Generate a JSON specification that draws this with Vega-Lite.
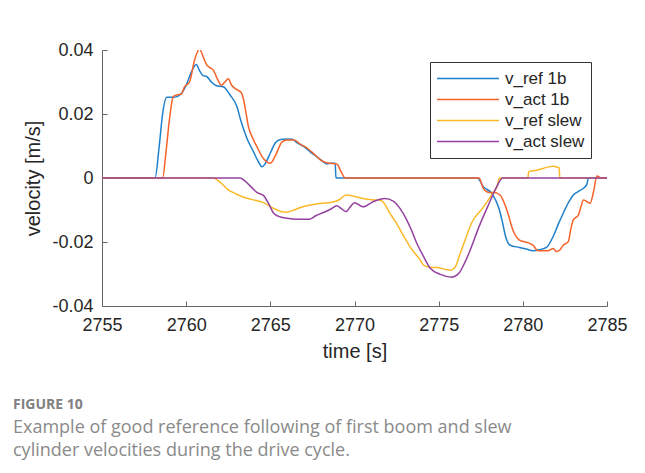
{
  "$schema": "https://vega.github.io/schema/vega-lite/v6.json",
  "width": 505,
  "height": 256,
  "autosize": {"type": "none"},
  "padding": {"left": 102, "top": 50, "right": 38, "bottom": 167},
  "background": "white",
  "config": {
    "view": {"stroke": null},
    "font": "Liberation Sans",
    "axis": {
      "domainColor": "#666",
      "tickColor": "#666",
      "tickSize": -5,
      "grid": false,
      "labelFont": "Liberation Sans",
      "labelFontSize": 18,
      "labelColor": "#262626",
      "titleFont": "Liberation Sans",
      "titleFontSize": 20,
      "titleFontWeight": "normal",
      "titleColor": "#262626"
    }
  },
  "title": {
    "text": "FIGURE 10",
    "subtitle": ["Example of good reference following of first boom and slew", "cylinder velocities during the drive cycle."],
    "orient": "bottom",
    "anchor": "start",
    "frame": "group",
    "dx": -89,
    "offset": 37,
    "font": "Open Sans",
    "fontSize": 14,
    "fontWeight": "bold",
    "color": "#808080",
    "subtitleFont": "Open Sans",
    "subtitleFontSize": 18,
    "subtitleColor": "#8a8a8a",
    "subtitleLineHeight": 22.5,
    "subtitlePadding": 7
  },
  "data": {"values": [
    {"t":2755,"v":0,"s":"v_ref 1b"},{"t":2758.15,"v":0,"s":"v_ref 1b"},{"t":2758.4,"v":0.010,"s":"v_ref 1b"},{"t":2758.6,"v":0.020,"s":"v_ref 1b"},{"t":2758.85,"v":0.0252,"s":"v_ref 1b"},{"t":2759.2,"v":0.0252,"s":"v_ref 1b"},{"t":2759.5,"v":0.0255,"s":"v_ref 1b"},{"t":2759.8,"v":0.027,"s":"v_ref 1b"},{"t":2760.0,"v":0.029,"s":"v_ref 1b"},{"t":2760.3,"v":0.033,"s":"v_ref 1b"},{"t":2760.6,"v":0.0355,"s":"v_ref 1b"},{"t":2760.8,"v":0.0335,"s":"v_ref 1b"},{"t":2761.0,"v":0.032,"s":"v_ref 1b"},{"t":2761.2,"v":0.0318,"s":"v_ref 1b"},{"t":2761.5,"v":0.030,"s":"v_ref 1b"},{"t":2761.8,"v":0.0288,"s":"v_ref 1b"},{"t":2762.2,"v":0.0285,"s":"v_ref 1b"},{"t":2762.6,"v":0.026,"s":"v_ref 1b"},{"t":2763.0,"v":0.0225,"s":"v_ref 1b"},{"t":2763.3,"v":0.017,"s":"v_ref 1b"},{"t":2763.6,"v":0.0125,"s":"v_ref 1b"},{"t":2764.0,"v":0.0082,"s":"v_ref 1b"},{"t":2764.3,"v":0.0050,"s":"v_ref 1b"},{"t":2764.5,"v":0.0035,"s":"v_ref 1b"},{"t":2764.75,"v":0.005,"s":"v_ref 1b"},{"t":2765.0,"v":0.0078,"s":"v_ref 1b"},{"t":2765.3,"v":0.011,"s":"v_ref 1b"},{"t":2765.6,"v":0.012,"s":"v_ref 1b"},{"t":2766.0,"v":0.0122,"s":"v_ref 1b"},{"t":2766.3,"v":0.0121,"s":"v_ref 1b"},{"t":2766.6,"v":0.011,"s":"v_ref 1b"},{"t":2767.0,"v":0.0098,"s":"v_ref 1b"},{"t":2767.4,"v":0.008,"s":"v_ref 1b"},{"t":2767.75,"v":0.0067,"s":"v_ref 1b"},{"t":2768.1,"v":0.0052,"s":"v_ref 1b"},{"t":2768.35,"v":0.0044,"s":"v_ref 1b"},{"t":2768.6,"v":0.0046,"s":"v_ref 1b"},{"t":2768.85,"v":0.0046,"s":"v_ref 1b"},{"t":2768.9,"v":0,"s":"v_ref 1b"},{"t":2777.3,"v":0,"s":"v_ref 1b"},{"t":2777.65,"v":-0.0027,"s":"v_ref 1b"},{"t":2778.15,"v":-0.0048,"s":"v_ref 1b"},{"t":2778.55,"v":-0.009,"s":"v_ref 1b"},{"t":2778.8,"v":-0.014,"s":"v_ref 1b"},{"t":2778.95,"v":-0.0178,"s":"v_ref 1b"},{"t":2779.25,"v":-0.021,"s":"v_ref 1b"},{"t":2779.8,"v":-0.0217,"s":"v_ref 1b"},{"t":2780.2,"v":-0.0222,"s":"v_ref 1b"},{"t":2780.6,"v":-0.0227,"s":"v_ref 1b"},{"t":2781.0,"v":-0.0224,"s":"v_ref 1b"},{"t":2781.4,"v":-0.0217,"s":"v_ref 1b"},{"t":2781.8,"v":-0.0183,"s":"v_ref 1b"},{"t":2782.1,"v":-0.0145,"s":"v_ref 1b"},{"t":2782.4,"v":-0.011,"s":"v_ref 1b"},{"t":2782.7,"v":-0.0078,"s":"v_ref 1b"},{"t":2783.0,"v":-0.0053,"s":"v_ref 1b"},{"t":2783.3,"v":-0.0042,"s":"v_ref 1b"},{"t":2783.6,"v":-0.0032,"s":"v_ref 1b"},{"t":2783.8,"v":-0.002,"s":"v_ref 1b"},{"t":2783.9,"v":0,"s":"v_ref 1b"},{"t":2785,"v":0,"s":"v_ref 1b"},

    {"t":2755,"v":0,"s":"v_act 1b"},{"t":2758.6,"v":0,"s":"v_act 1b"},{"t":2758.8,"v":0.008,"s":"v_act 1b"},{"t":2759.0,"v":0.018,"s":"v_act 1b"},{"t":2759.24,"v":0.0255,"s":"v_act 1b"},{"t":2759.5,"v":0.026,"s":"v_act 1b"},{"t":2759.7,"v":0.0262,"s":"v_act 1b"},{"t":2759.9,"v":0.0285,"s":"v_act 1b"},{"t":2760.2,"v":0.030,"s":"v_act 1b"},{"t":2760.5,"v":0.0369,"s":"v_act 1b"},{"t":2760.8,"v":0.0403,"s":"v_act 1b"},{"t":2761.0,"v":0.038,"s":"v_act 1b"},{"t":2761.2,"v":0.0355,"s":"v_act 1b"},{"t":2761.4,"v":0.0345,"s":"v_act 1b"},{"t":2761.6,"v":0.0338,"s":"v_act 1b"},{"t":2761.85,"v":0.031,"s":"v_act 1b"},{"t":2762.1,"v":0.029,"s":"v_act 1b"},{"t":2762.3,"v":0.030,"s":"v_act 1b"},{"t":2762.5,"v":0.031,"s":"v_act 1b"},{"t":2762.7,"v":0.029,"s":"v_act 1b"},{"t":2762.9,"v":0.028,"s":"v_act 1b"},{"t":2763.3,"v":0.0265,"s":"v_act 1b"},{"t":2763.5,"v":0.022,"s":"v_act 1b"},{"t":2763.7,"v":0.016,"s":"v_act 1b"},{"t":2763.95,"v":0.0125,"s":"v_act 1b"},{"t":2764.2,"v":0.0098,"s":"v_act 1b"},{"t":2764.6,"v":0.006,"s":"v_act 1b"},{"t":2765.0,"v":0.0046,"s":"v_act 1b"},{"t":2765.3,"v":0.007,"s":"v_act 1b"},{"t":2765.7,"v":0.0113,"s":"v_act 1b"},{"t":2766.0,"v":0.0119,"s":"v_act 1b"},{"t":2766.4,"v":0.0119,"s":"v_act 1b"},{"t":2766.8,"v":0.0105,"s":"v_act 1b"},{"t":2767.2,"v":0.0093,"s":"v_act 1b"},{"t":2767.6,"v":0.0075,"s":"v_act 1b"},{"t":2768.0,"v":0.0056,"s":"v_act 1b"},{"t":2768.4,"v":0.0047,"s":"v_act 1b"},{"t":2768.95,"v":0.0044,"s":"v_act 1b"},{"t":2769.2,"v":0.002,"s":"v_act 1b"},{"t":2769.45,"v":0,"s":"v_act 1b"},{"t":2777.4,"v":0,"s":"v_act 1b"},{"t":2777.65,"v":-0.0032,"s":"v_act 1b"},{"t":2778.0,"v":-0.0045,"s":"v_act 1b"},{"t":2778.3,"v":-0.0045,"s":"v_act 1b"},{"t":2778.65,"v":-0.0053,"s":"v_act 1b"},{"t":2779.05,"v":-0.010,"s":"v_act 1b"},{"t":2779.45,"v":-0.0168,"s":"v_act 1b"},{"t":2779.8,"v":-0.0194,"s":"v_act 1b"},{"t":2780.3,"v":-0.0202,"s":"v_act 1b"},{"t":2780.6,"v":-0.021,"s":"v_act 1b"},{"t":2780.9,"v":-0.0227,"s":"v_act 1b"},{"t":2781.5,"v":-0.0227,"s":"v_act 1b"},{"t":2781.8,"v":-0.022,"s":"v_act 1b"},{"t":2782.0,"v":-0.023,"s":"v_act 1b"},{"t":2782.2,"v":-0.0225,"s":"v_act 1b"},{"t":2782.4,"v":-0.021,"s":"v_act 1b"},{"t":2782.7,"v":-0.0199,"s":"v_act 1b"},{"t":2782.85,"v":-0.016,"s":"v_act 1b"},{"t":2783.0,"v":-0.0131,"s":"v_act 1b"},{"t":2783.3,"v":-0.0116,"s":"v_act 1b"},{"t":2783.45,"v":-0.009,"s":"v_act 1b"},{"t":2783.6,"v":-0.0069,"s":"v_act 1b"},{"t":2784.0,"v":-0.0079,"s":"v_act 1b"},{"t":2784.2,"v":-0.0043,"s":"v_act 1b"},{"t":2784.4,"v":0.0006,"s":"v_act 1b"},{"t":2784.7,"v":0,"s":"v_act 1b"},{"t":2785,"v":0,"s":"v_act 1b"},

    {"t":2755,"v":0,"s":"v_ref slew"},{"t":2761.6,"v":0,"s":"v_ref slew"},{"t":2761.9,"v":-0.0008,"s":"v_ref slew"},{"t":2762.2,"v":-0.0022,"s":"v_ref slew"},{"t":2762.5,"v":-0.0037,"s":"v_ref slew"},{"t":2762.9,"v":-0.0048,"s":"v_ref slew"},{"t":2763.3,"v":-0.0058,"s":"v_ref slew"},{"t":2763.8,"v":-0.0066,"s":"v_ref slew"},{"t":2764.6,"v":-0.0077,"s":"v_ref slew"},{"t":2765.2,"v":-0.0095,"s":"v_ref slew"},{"t":2765.9,"v":-0.0107,"s":"v_ref slew"},{"t":2766.3,"v":-0.0102,"s":"v_ref slew"},{"t":2766.8,"v":-0.0092,"s":"v_ref slew"},{"t":2767.3,"v":-0.0085,"s":"v_ref slew"},{"t":2767.75,"v":-0.0081,"s":"v_ref slew"},{"t":2768.65,"v":-0.0076,"s":"v_ref slew"},{"t":2769.1,"v":-0.0068,"s":"v_ref slew"},{"t":2769.5,"v":-0.0053,"s":"v_ref slew"},{"t":2769.9,"v":-0.0056,"s":"v_ref slew"},{"t":2770.5,"v":-0.0064,"s":"v_ref slew"},{"t":2771.0,"v":-0.0068,"s":"v_ref slew"},{"t":2771.5,"v":-0.0069,"s":"v_ref slew"},{"t":2771.7,"v":-0.0075,"s":"v_ref slew"},{"t":2772.1,"v":-0.011,"s":"v_ref slew"},{"t":2772.5,"v":-0.0142,"s":"v_ref slew"},{"t":2772.9,"v":-0.018,"s":"v_ref slew"},{"t":2773.3,"v":-0.0215,"s":"v_ref slew"},{"t":2773.9,"v":-0.0256,"s":"v_ref slew"},{"t":2774.1,"v":-0.0272,"s":"v_ref slew"},{"t":2774.5,"v":-0.0279,"s":"v_ref slew"},{"t":2774.9,"v":-0.028,"s":"v_ref slew"},{"t":2775.3,"v":-0.0284,"s":"v_ref slew"},{"t":2775.7,"v":-0.0288,"s":"v_ref slew"},{"t":2776.0,"v":-0.0277,"s":"v_ref slew"},{"t":2776.25,"v":-0.024,"s":"v_ref slew"},{"t":2776.5,"v":-0.0204,"s":"v_ref slew"},{"t":2777.0,"v":-0.0136,"s":"v_ref slew"},{"t":2777.6,"v":-0.0095,"s":"v_ref slew"},{"t":2778.15,"v":-0.0053,"s":"v_ref slew"},{"t":2778.5,"v":-0.0022,"s":"v_ref slew"},{"t":2778.6,"v":0,"s":"v_ref slew"},{"t":2780.3,"v":0,"s":"v_ref slew"},{"t":2780.35,"v":0.002,"s":"v_ref slew"},{"t":2780.8,"v":0.0024,"s":"v_ref slew"},{"t":2781.2,"v":0.003,"s":"v_ref slew"},{"t":2781.8,"v":0.0037,"s":"v_ref slew"},{"t":2782.15,"v":0.0032,"s":"v_ref slew"},{"t":2782.2,"v":0,"s":"v_ref slew"},{"t":2785,"v":0,"s":"v_ref slew"},

    {"t":2755,"v":0,"s":"v_act slew"},{"t":2763.2,"v":0,"s":"v_act slew"},{"t":2763.5,"v":-0.001,"s":"v_act slew"},{"t":2763.9,"v":-0.003,"s":"v_act slew"},{"t":2764.2,"v":-0.0045,"s":"v_act slew"},{"t":2764.6,"v":-0.0055,"s":"v_act slew"},{"t":2764.9,"v":-0.008,"s":"v_act slew"},{"t":2765.2,"v":-0.011,"s":"v_act slew"},{"t":2765.6,"v":-0.0122,"s":"v_act slew"},{"t":2766.0,"v":-0.0126,"s":"v_act slew"},{"t":2766.6,"v":-0.0129,"s":"v_act slew"},{"t":2767.3,"v":-0.0129,"s":"v_act slew"},{"t":2767.7,"v":-0.0118,"s":"v_act slew"},{"t":2768.15,"v":-0.0108,"s":"v_act slew"},{"t":2768.6,"v":-0.0097,"s":"v_act slew"},{"t":2768.95,"v":-0.0087,"s":"v_act slew"},{"t":2769.2,"v":-0.0095,"s":"v_act slew"},{"t":2769.5,"v":-0.0105,"s":"v_act slew"},{"t":2769.75,"v":-0.009,"s":"v_act slew"},{"t":2770.0,"v":-0.0077,"s":"v_act slew"},{"t":2770.5,"v":-0.009,"s":"v_act slew"},{"t":2771.1,"v":-0.0074,"s":"v_act slew"},{"t":2771.8,"v":-0.0064,"s":"v_act slew"},{"t":2772.3,"v":-0.0072,"s":"v_act slew"},{"t":2772.7,"v":-0.0095,"s":"v_act slew"},{"t":2773.1,"v":-0.0131,"s":"v_act slew"},{"t":2773.4,"v":-0.0165,"s":"v_act slew"},{"t":2773.7,"v":-0.0204,"s":"v_act slew"},{"t":2774.1,"v":-0.0245,"s":"v_act slew"},{"t":2774.5,"v":-0.0282,"s":"v_act slew"},{"t":2775.1,"v":-0.0301,"s":"v_act slew"},{"t":2775.8,"v":-0.031,"s":"v_act slew"},{"t":2776.2,"v":-0.0298,"s":"v_act slew"},{"t":2776.5,"v":-0.027,"s":"v_act slew"},{"t":2776.8,"v":-0.0235,"s":"v_act slew"},{"t":2777.4,"v":-0.0152,"s":"v_act slew"},{"t":2778.0,"v":-0.0079,"s":"v_act slew"},{"t":2778.45,"v":-0.0027,"s":"v_act slew"},{"t":2778.8,"v":0,"s":"v_act slew"},{"t":2785,"v":0,"s":"v_act slew"}
  ]},
  "mark": {"type": "line", "strokeWidth": 1.5, "interpolate": "monotone", "clip": true},
  "encoding": {
    "x": {
      "field": "t", "type": "quantitative",
      "scale": {"domain": [2755, 2785], "nice": false, "zero": false},
      "axis": {"values": [2755, 2760, 2765, 2770, 2775, 2780, 2785], "format": "d", "title": "time [s]", "labelPadding": 15, "titlePadding": 7, "labelFlush": false}
    },
    "y": {
      "field": "v", "type": "quantitative",
      "scale": {"domain": [-0.04, 0.04], "nice": false, "zero": false},
      "axis": {"values": [-0.04, -0.02, 0, 0.02, 0.04], "format": ".2~f", "labelExpr": "replace(datum.label, '\u2212', '-')", "title": "velocity [m/s]", "labelPadding": 14, "titlePadding": 8}
    },
    "color": {
      "field": "s", "type": "nominal",
      "scale": {"domain": ["v_ref 1b", "v_act 1b", "v_ref slew", "v_act slew"], "range": ["#1f80cc", "#f5622a", "#fbb829", "#94409f"]},
      "legend": {
        "title": null,
        "orient": "none",
        "legendX": 328,
        "legendY": 12,
        "strokeColor": "#333",
        "fillColor": "white",
        "padding": 6,
        "clipHeight": 21,
        "rowPadding": 0,
        "symbolType": "stroke",
        "symbolSize": 3844,
        "symbolStrokeWidth": 1.5,
        "labelFont": "Liberation Sans",
        "labelFontSize": 17,
        "labelColor": "#262626",
        "labelOffset": 5
      }
    },
    "order": {"field": "t", "type": "quantitative"}
  }
}
